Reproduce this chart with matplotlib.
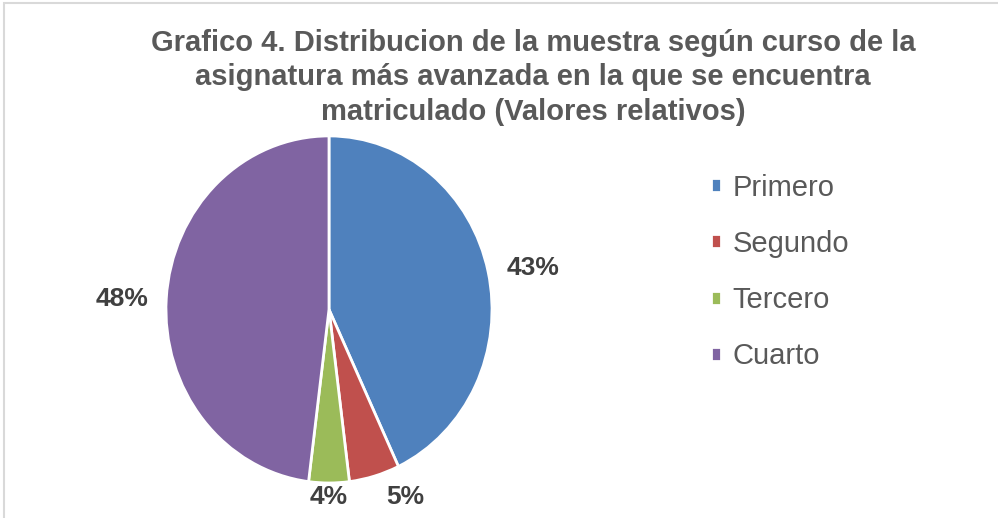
import numpy as np
import matplotlib.pyplot as plt
from matplotlib.patches import Rectangle

# data
categories = ['Primero', 'Segundo', 'Tercero', 'Cuarto']
values = [43, 5, 4, 48]
colors = ['#4F81BD', '#C0504D', '#9BBB59', '#8064A2']
title = ('Grafico 4. Distribucion de la muestra según curso de la\n'
         'asignatura más avanzada en la que se encuentra\n'
         'matriculado (Valores relativos)')

plt.rcParams['font.family'] = ['Liberation Sans', 'DejaVu Sans']

fig = plt.figure(figsize=(9.98, 5.18), dpi=100)
# light frame around the chart area
fig.patches.append(Rectangle((0.004, -0.05), 1.2, 1.045, transform=fig.transFigure,
                             fill=False, edgecolor='#D9D9D9', linewidth=1.5))

# the original pie is slightly stretched vertically
ax = fig.add_axes([0.1663, 0.0676, 0.3267, 0.670])
wedges, _ = ax.pie(values, colors=colors, startangle=90, counterclock=False,
                   wedgeprops=dict(edgecolor='white', linewidth=2))
ax.set_aspect('auto')
ax.set_xlim(-1, 1)
ax.set_ylim(-1, 1)

# data labels outside the slices (excel-style "best fit" placement)
label_dist = [1.275, 1.175, 1.08, 1.27]
label_shift = [-1.7, 7.2, 0, 1.0]  # degrees
for w, v, d, s in zip(wedges, values, label_dist, label_shift):
    ang = np.deg2rad((w.theta1 + w.theta2) / 2 + s)
    ax.text(d * np.cos(ang), d * np.sin(ang), f'{v}%', ha='center', va='center',
            fontsize=19, fontweight='bold', color='#404040', clip_on=False)

fig.text(0.534, 0.851, title, ha='center', va='center', fontsize=21,
         fontweight='bold', color='#595959', linespacing=1.3)

leg = fig.legend(wedges, categories, loc='upper left', bbox_to_anchor=(0.712, 0.665),
                 frameon=False, fontsize=21, labelcolor='#595959',
                 handlelength=0.35, handleheight=0.35, handletextpad=0.4,
                 labelspacing=0.97, borderpad=0, borderaxespad=0)

fig.savefig('out.png', dpi=100)
